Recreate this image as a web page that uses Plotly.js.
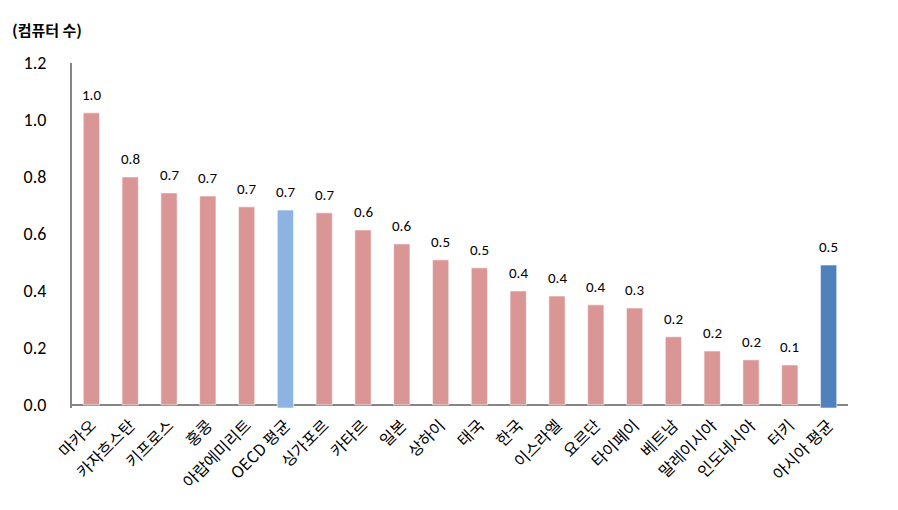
<!DOCTYPE html>
<html>
<head>
<meta charset="utf-8">
<script src="https://cdn.plot.ly/plotly-3.0.1.min.js"></script>
<style>html,body{margin:0;padding:0;background:#fff;}#chart{width:898px;height:510px;}</style>
</head>
<body>
<div id="chart"></div>
<script>
const categories = ["마카오","카자흐스탄","키프로스","홍콩","아랍에미리트","OECD 평균","싱가포르","카타르","일본","상하이","태국","한국","이스라엘","요르단","타이페이","베트남","말레이시아","인도네시아","터키","아시아 평균"];
const values = [1.025,0.80,0.744,0.733,0.695,0.684,0.674,0.614,0.565,0.509,0.481,0.40,0.382,0.351,0.340,0.239,0.189,0.158,0.14,0.491];
const barColors = ["#d99694","#d99694","#d99694","#d99694","#d99694","#8db3e2","#d99694","#d99694","#d99694","#d99694","#d99694","#d99694","#d99694","#d99694","#d99694","#d99694","#d99694","#d99694","#d99694","#4f81bd"];
const yTicks = [0,0.2,0.4,0.6,0.8,1.0,1.2];
const yTickLabels = ["0.0","0.2","0.4","0.6","0.8","1.0","1.2"];
const avgDip = categories.map(c => c.indexOf("평균") >= 0 ? -0.011 : 0);

const numFont = "Carlito, 'Liberation Sans', 'Noto Sans', sans-serif";
const krFont = "'Noto Sans CJK KR', 'Noto Sans', sans-serif";

const trace = {
  type: "bar",
  x: categories,
  y: values.map((v,i) => v - avgDip[i]),
  base: avgDip,
  marker: {color: barColors, line: {color: "rgba(255,255,255,0.6)", width: 1}},
  hoverinfo: "skip"
};

const valueLabels = categories.map((c, i) => ({
  x: c, y: values[i], xref: "x", yref: "y",
  text: values[i].toFixed(1),
  showarrow: false, yanchor: "bottom", yshift: 7,
  font: {family: numFont, size: 15, color: "#000"}
}));

const layout = {
  width: 898, height: 510,
  margin: {l: 72, r: 50, t: 63, b: 102},
  paper_bgcolor: "#fff", plot_bgcolor: "#fff",
  showlegend: false,
  bargap: 0.58,
  xaxis: {
    showline: false, showgrid: false, zeroline: false,
    tickangle: -45, ticks: "", ticklabelstandoff: 4,
    tickfont: {family: krFont, size: 16, color: "#000"},
    fixedrange: true
  },
  yaxis: {
    range: [-0.011, 1.2],
    tickvals: yTicks, ticktext: yTickLabels,
    showgrid: false, showline: true, linecolor: "#868686", linewidth: 2,
    zeroline: true, zerolinecolor: "#868686", zerolinewidth: 2,
    ticks: "", ticklabelstandoff: 20,
    tickfont: {family: numFont, size: 18, color: "#000"},
    fixedrange: true
  },
  annotations: valueLabels.concat([{
    text: "<b>(컴퓨터 수)</b>",
    xref: "paper", yref: "paper", x: 0, y: 1, xanchor: "left", yanchor: "bottom",
    xshift: -62, yshift: 21, showarrow: false,
    font: {family: krFont, size: 15, color: "#000"}
  }])
};

Plotly.newPlot("chart", [trace], layout, {displayModeBar: false, staticPlot: true});
</script>
</body>
</html>
